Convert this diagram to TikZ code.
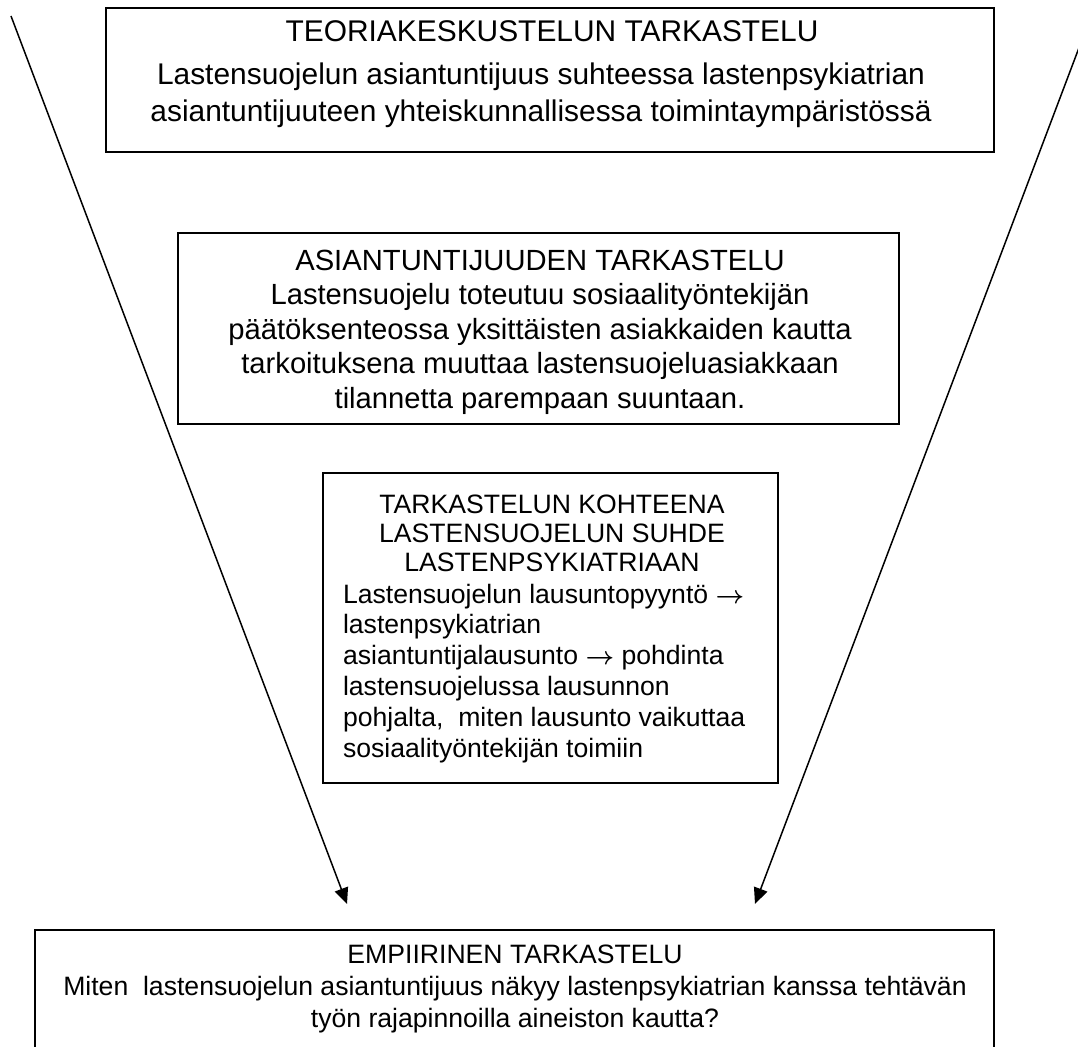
\documentclass[tikz,border=0pt]{standalone}
\usepackage{fontspec}
\setmainfont{Liberation Sans}
\usetikzlibrary{arrows.meta}
\tikzset{
  boxnode/.style={draw=black, line width=2pt, inner sep=0pt, fill=none},
  txt/.style={inner sep=0pt, outer sep=0pt, align=center},
  conn/.style={line width=1.5pt, -{Triangle[length=16pt,width=14pt]}},
}
\newcommand{\fst}{\rule{0pt}{24pt}}
\newcommand{\arr}{$\boldsymbol{\rightarrow}$}
\usepackage{amsmath}
\begin{document}
\begin{tikzpicture}[x=1pt,y=-1pt]
\useasboundingbox (0,0) rectangle (1078,1046);
\clip (0,0) rectangle (1078,1046);
\fill[white] (0,0) rectangle (1078,1046);
% boxes
\node[boxnode, minimum width=888pt, minimum height=144pt] (b1) at (550,80) {};
\node[boxnode, minimum width=721pt, minimum height=191pt] (b2) at (538.5,328.5) {};
\node[boxnode, minimum width=455pt, minimum height=310pt] (b3) at (550.5,628) {};
\node[boxnode, minimum width=959pt, minimum height=160pt] (b4) at (514.5,1010) {};
% texts
\node[txt, anchor=north, font=\fontsize{29.9}{36.3}\selectfont] (t1a) at (552,18)
  {\fst TEORIAKESKUSTELUN TARKASTELU};
\node[txt, anchor=north, font=\fontsize{29.9}{36.3}\selectfont] (t1b) at (541,61)
  {\fst Lastensuojelun asiantuntijuus suhteessa lastenpsykiatrian\\
   asiantuntijuuteen yhteiskunnallisessa toimintaympäristössä};
\node[txt, anchor=north, font=\fontsize{29.2}{34.5}\selectfont] (t2) at (540,246)
  {\fst ASIANTUNTIJUUDEN TARKASTELU\\
   Lastensuojelu toteutuu sosiaalityöntekijän\\
   päätöksenteossa yksittäisten asiakkaiden kautta\\
   tarkoituksena muuttaa lastensuojeluasiakkaan\\
   tilannetta parempaan suuntaan.};
\node[txt, anchor=north, font=\fontsize{26.6}{29}\selectfont] (t3a) at (552,489)
  {\fst TARKASTELUN KOHTEENA\\
   LASTENSUOJELUN SUHDE\\
   LASTENPSYKIATRIAAN};
\node[txt, align=left, anchor=north west, font=\fontsize{26.6}{30.8}\selectfont] (t3b) at (343,579)
  {\fst Lastensuojelun lausuntopyyntö \arr\\
   lastenpsykiatrian\\
   asiantuntijalausunto \arr\ pohdinta\\
   lastensuojelussa lausunnon\\
   pohjalta,\ \ miten lausunto vaikuttaa\\
   sosiaalityöntekijän toimiin};
\node[txt, anchor=north, font=\fontsize{26.6}{32}\selectfont] (t4) at (515,939)
  {\fst EMPIIRINEN TARKASTELU\\
   Miten\ \ lastensuojelun asiantuntijuus näkyy lastenpsykiatrian kanssa tehtävän\\
   työn rajapinnoilla aineiston kautta?};
% connectors
\coordinate (ls) at (11,16);
\coordinate (lt) at (347,904);
\coordinate (rs) at (1091,16);
\coordinate (rt) at (755,904);
\draw[conn] (ls) -- (lt);
\draw[conn] (rs) -- (rt);
\end{tikzpicture}
\end{document}
